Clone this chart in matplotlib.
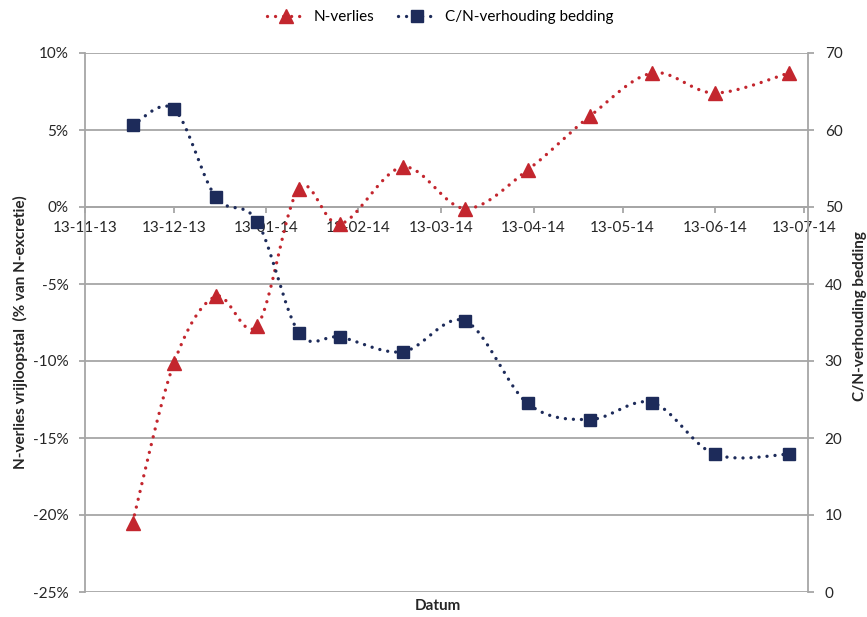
import numpy as np
import matplotlib
matplotlib.use("Agg")
import matplotlib.pyplot as plt
import matplotlib.dates as mdates
from matplotlib.ticker import FuncFormatter, MultipleLocator
import datetime as dt

plt.rcParams['font.family'] = ['Lato', 'DejaVu Sans']

dates = ["2013-11-29", "2013-12-13", "2013-12-27", "2014-01-10", "2014-01-24",
         "2014-02-07", "2014-02-28", "2014-03-21", "2014-04-11", "2014-05-02",
         "2014-05-23", "2014-06-13", "2014-07-08"]
n_verlies = [-20.5, -10.1, -5.8, -7.7, 1.2, -1.1, 2.6, -0.1, 2.4, 5.9, 8.7, 7.4, 8.7]
cn_ratio = [60.6, 62.7, 51.3, 48.1, 33.7, 33.1, 31.2, 35.2, 24.5, 22.4, 24.6, 17.9, 17.9]
tick_dates = ["2013-11-13", "2013-12-13", "2014-01-13", "2014-02-13", "2014-03-13",
              "2014-04-13", "2014-05-13", "2014-06-13", "2014-07-13"]

RED = '#C3262E'
NAVY = '#1D2B5A'
GRID = '#A6A6A6'

xd = [dt.datetime.strptime(d, "%Y-%m-%d") for d in dates]
xn = mdates.date2num(xd)
ticks = mdates.date2num([dt.datetime.strptime(d, "%Y-%m-%d") for d in tick_dates])
xmin = mdates.date2num(dt.datetime(2013, 11, 13))
xmax = mdates.date2num(dt.datetime(2014, 7, 14, 10))

fig = plt.figure(figsize=(8.67, 6.17), dpi=100)
ax = fig.add_axes([85/867, 1-592/617, (808-85)/867, (592-53)/617])
ax2 = ax.twinx()


def smooth(x, y, xlim, ylim, n=30):
    # Catmull-Rom spline in normalized axes space (line styling only)
    px = (np.asarray(x) - xlim[0]) / (xlim[1] - xlim[0])
    py = (np.asarray(y) - ylim[0]) / (ylim[1] - ylim[0]) * (539/723)
    P = np.column_stack([px, py])
    P = np.vstack([P[0], P, P[-1]])
    out = []
    t = np.linspace(0, 1, n)
    for i in range(1, len(P) - 2):
        p0, p1, p2, p3 = P[i-1], P[i], P[i+1], P[i+2]
        c1 = p1 + (p2 - p0) / 6
        c2 = p2 - (p3 - p1) / 6
        seg = ((1-t)**3)[:, None]*p1 + (3*(1-t)**2*t)[:, None]*c1 + \
              (3*(1-t)*t**2)[:, None]*c2 + (t**3)[:, None]*p2
        out.append(seg if i == 1 else seg[1:])
    S = np.vstack(out)
    sx = S[:, 0] * (xlim[1] - xlim[0]) + xlim[0]
    sy = S[:, 1] / (539/723) * (ylim[1] - ylim[0]) + ylim[0]
    return sx, sy


ylim1 = (-25, 10)
ylim2 = (0, 70)
dots = (0, (0.01, 2.4))

sx, sy = smooth(xn, n_verlies, (xmin, xmax), ylim1)
ax.plot(sx, sy, color=RED, lw=2.4, linestyle=dots, dash_capstyle='round', zorder=3)
ax.plot(xn, n_verlies, linestyle='none', marker='^', color=RED, ms=10, zorder=4)

sx2, sy2 = smooth(xn, cn_ratio, (xmin, xmax), ylim2)
ax2.plot(sx2, sy2, color=NAVY, lw=2.4, linestyle=dots, dash_capstyle='round', zorder=3)
ax2.plot(xn, cn_ratio, linestyle='none', marker='s', color=NAVY, ms=9, zorder=4)

ax.set_xlim(xmin, xmax)
ax.set_ylim(*ylim1)
ax2.set_ylim(*ylim2)
ax.yaxis.set_major_locator(MultipleLocator(5))
ax.yaxis.set_major_formatter(FuncFormatter(lambda v, p: f"{int(round(v))}%"))
ax2.yaxis.set_major_locator(MultipleLocator(10))

ax.set_xticks(ticks)
ax.xaxis.set_major_formatter(mdates.DateFormatter('%d-%m-%y'))

for v in np.arange(-25, 10.1, 5):
    ax.axhline(v, color=GRID, lw=1.3, zorder=1)

for a in (ax, ax2):
    a.spines['top'].set_visible(False)
ax.spines['bottom'].set_position(('data', 0))
ax.spines['bottom'].set_color(GRID)
ax.spines['bottom'].set_linewidth(1.3)
ax.spines['left'].set_color(GRID)
ax.spines['left'].set_linewidth(1.3)
ax.spines['right'].set_visible(False)
ax2.spines['left'].set_visible(False)
ax2.spines['bottom'].set_visible(False)
ax2.spines['right'].set_color(GRID)
ax2.spines['right'].set_linewidth(1.3)

ax.tick_params(axis='x', direction='out', length=4, width=1.3, color=GRID,
               labelsize=11, labelcolor='#262626', pad=6)
ax.tick_params(axis='y', direction='out', length=4, width=1.3, color=GRID,
               labelsize=11, labelcolor='#262626', pad=8)
ax2.tick_params(axis='y', direction='out', length=4, width=1.3, color=GRID,
                labelsize=11, labelcolor='#262626', pad=8)

fig.text(20/867, 1-332/617, "N-verlies vrijloopstal  (% van N-excretie)", rotation=90,
         ha='center', va='center', fontsize=11, fontweight='bold', color='#262626')
fig.text(860/867, 1-316/617, "C/N-verhouding bedding", rotation=90,
         ha='center', va='center', fontsize=11, fontweight='bold', color='#262626')
fig.text(438/867, 1-606/617, "Datum", ha='center', va='center',
         fontsize=11, fontweight='bold', color='#262626')

h1, = ax.plot([], [], color=RED, lw=2.4, linestyle=dots, dash_capstyle='round',
              marker='^', ms=10)
h2, = ax.plot([], [], color=NAVY, lw=2.4, linestyle=dots, dash_capstyle='round',
              marker='s', ms=9)
fig.legend([h1, h2], ["N-verlies", "C/N-verhouding bedding"], loc='center',
           bbox_to_anchor=(440/867, 1-17/617), ncol=2, frameon=False, fontsize=11,
           handlelength=2.6, columnspacing=1.5, handletextpad=0.5)

fig.savefig("out.png", dpi=100)
